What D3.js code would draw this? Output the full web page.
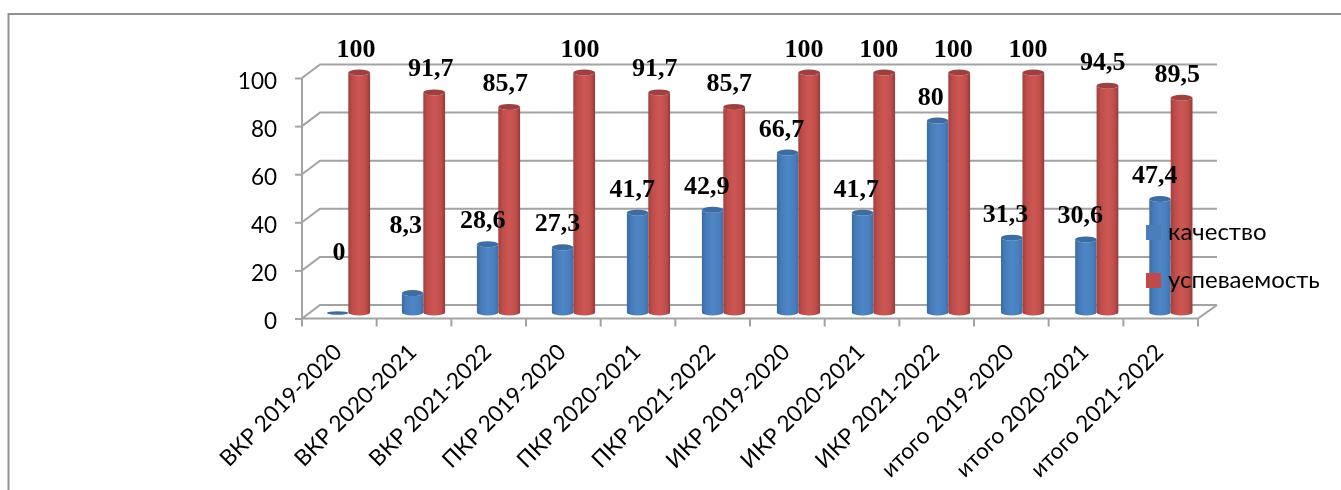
<!DOCTYPE html>
<html><head><meta charset="utf-8">
<script src="https://cdn.jsdelivr.net/npm/d3@7/dist/d3.min.js"></script>
<style>html,body{margin:0;padding:0;background:#fff;overflow:hidden}svg{display:block}</style>
</head><body><svg id="c" width="1341" height="490"></svg>
<script>
const categories = ["ВКР 2019-2020","ВКР 2020-2021","ВКР 2021-2022","ПКР 2019-2020","ПКР 2020-2021","ПКР 2021-2022","ИКР 2019-2020","ИКР 2020-2021","ИКР 2021-2022","итого 2019-2020","итого 2020-2021","итого 2021-2022"];
const seriesNames = ["качество","успеваемость"];
const kachestvo = [0,8.3,28.6,27.3,41.7,42.9,66.7,41.7,80,31.3,30.6,47.4];
const uspevaemost = [100,91.7,85.7,100,91.7,85.7,100,100,100,100,94.5,89.5];
const yTicks = [0,20,40,60,80,100];

const W=1341,H=490,depthX=18,depthY=13.5,axisFont="Lato, 'Open Sans', sans-serif",labelFont="'Liberation Serif', serif";
const gridC="#a3a3a3";
const svg=d3.select("#c");
const defs=svg.append("defs");
function grad(id,stops){const g=defs.append("linearGradient").attr("id",id);
  stops.forEach(s=>g.append("stop").attr("offset",s[0]).attr("stop-color",s[1]));}
grad("gb",[[0,"#386ca3"],[.2,"#467cb9"],[.5,"#4f86c6"],[.8,"#4a7fbd"],[1,"#3d71a9"]]);
grad("gr",[[0,"#9e413f"],[.2,"#bf4e4b"],[.5,"#cd5653"],[.8,"#c14f4c"],[1,"#933c3a"]]);
defs.append("filter").attr("id","soft").append("feGaussianBlur").attr("stdDeviation",.55);
defs.append("filter").attr("id","softer").append("feGaussianBlur").attr("stdDeviation",.35);

const x=d3.scaleBand().domain(categories).range([302,1198]);
const y=d3.scaleLinear().domain([0,100]).range([318.5,78]);
// the columns drift slightly against the ticks in the picture, so they get their own scale
const xRed=d3.scaleLinear().domain([0,8,11]).range([348.3,948.3,1170.7]);
const barW={[seriesNames[0]]:21.4,[seriesNames[1]]:21.8};

svg.append("path").attr("d",`M8.5,${H}V14H${W}`).attr("fill","none").attr("stroke","#909090").attr("stroke-width",2);

const chart=svg.append("g").attr("filter","url(#soft)");
const wall=chart.append("g").attr("fill","none").attr("stroke",gridC).attr("stroke-width",2);
yTicks.forEach(t=>{
  const yy=y(t);
  wall.append("path").attr("d",`M302,${yy}L${302+depthX},${yy-depthY}H${1198+depthX+1}`);
});
wall.append("path").attr("d",`M302,${y(100)}V${y(0)}H1198L${1198+depthX+1},${y(0)-depthY}`);
const edges=categories.map(c=>x(c)).concat([x.range()[1]]);
wall.selectAll("line.e").data(edges).join("line").attr("class","e")
  .attr("x1",d=>d).attr("x2",d=>d).attr("y1",y(0)).attr("y2",y(0)+8);

const gy=chart.append("g").attr("transform","translate(302,0)").call(d3.axisLeft(y).tickValues(yTicks).tickSize(7).tickPadding(18));
gy.select(".domain").remove();
gy.selectAll("line").attr("stroke",gridC).attr("stroke-width",2);
gy.selectAll("text").attr("font-family",axisFont).attr("font-size",22.5).attr("fill","#000").attr("dy","0.45em");

const gx=chart.append("g").attr("transform",`translate(0,${y(0)})`).call(d3.axisBottom(x).tickSize(0).tickPadding(0));
gx.select(".domain").remove();
gx.selectAll("text").attr("font-family",axisFont).attr("font-size",22.5).attr("fill","#000")
  .attr("text-anchor","end").attr("dy",0).attr("y",0)
  .attr("transform","translate(4,35) rotate(-45)");

const ry=3;
function barPath(x0,w,top,bot){
  return `M${x0},${top}A${w/2},${ry} 0 0 0 ${x0+w},${top}V${bot}A${w/2},${ry} 0 0 1 ${x0},${bot}Z`;
}
const rows=categories.map((c,i)=>[
 {c,s:seriesNames[0],v:kachestvo[i],i},{c,s:seriesNames[1],v:uspevaemost[i],i}]);
const lift=5.5;
const bars=chart.append("g");
rows.forEach(pair=>pair.forEach((d,k)=>{
  const w=barW[d.s];
  const x0=k===0?xRed(d.i)-w:xRed(d.i);
  const bot=y(0)-lift-ry/2+1,top=y(d.v)-lift;
  const blue=k===0;
  if(d.v>0) bars.append("path").attr("d",barPath(x0,w,top,bot)).attr("fill",blue?"url(#gb)":"url(#gr)");
  bars.append("ellipse").attr("cx",x0+w/2).attr("cy",top).attr("rx",w/2).attr("ry",d.v>0?ry:1.8)
    .attr("fill",blue?"#3c6ca3":"#9e403e");
}));

const labelCentre=[31.5,54];
const labelNudge=new Map([["0:0",[5.5,-37]],["0:1",[-2.5,-44]]]);
const fmt=v=>String(v).replace(".",",");
const labels=svg.append("g").attr("filter","url(#softer)").attr("font-family",labelFont).attr("font-weight","bold").attr("font-size",26).attr("fill","#000").attr("text-anchor","middle");
rows.forEach(pair=>pair.forEach((d,k)=>{
  const n=labelNudge.get(k+":"+d.i)||[0,0];
  labels.append("text")
    .attr("x",x(d.c)+labelCentre[k]+n[0])
    .attr("y",y(d.v)-lift-16+n[1])
    .text(fmt(d.v));
}));

const leg=svg.append("g").attr("filter","url(#softer)").attr("font-family",axisFont).attr("font-size",24).attr("fill","#000");
const legY=d3.scalePoint().domain(seriesNames).range([232.5,280.5]);
const legC=d3.scaleOrdinal().domain(seriesNames).range(["#4a7ebb","#be4b48"]);
seriesNames.forEach(s=>{
  leg.append("rect").attr("x",1146).attr("y",legY(s)-7.5).attr("width",15).attr("height",15).attr("fill",legC(s));
  leg.append("text").attr("x",1168).attr("y",legY(s)+7.5).text(s);
});
</script></body></html>
